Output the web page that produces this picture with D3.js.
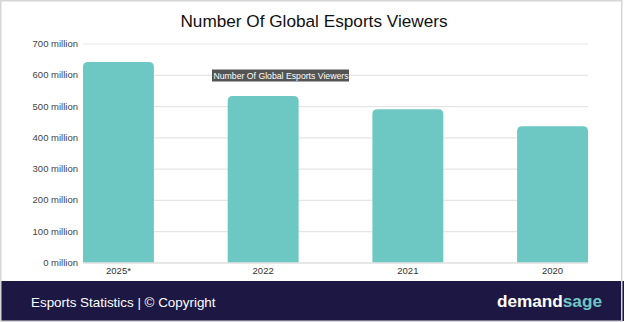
<!DOCTYPE html>
<html>
<head>
<meta charset="utf-8">
<script src="https://cdn.jsdelivr.net/npm/d3@7"></script>
<style>
  html, body { margin: 0; padding: 0; background: #fff; }
  svg { display: block; font-family: "Liberation Sans", Arial, Helvetica, sans-serif; }
</style>
</head>
<body>
<svg id="chart" width="624" height="322"></svg>
<script>
// Global esports viewers, in millions
const years = ["2025*", "2022", "2021", "2020"];
const viewers = [640.8, 532, 489.5, 435.9];
const yTicks = [0, 100, 200, 300, 400, 500, 600, 700];

const title = "Number Of Global Esports Viewers";
const footerText = "Esports Statistics | \u00A9 Copyright";

const W = 624, H = 322;
const plot = { left: 83, right: 588, top: 43.5, bottom: 262.5 };
const barColor = "#6dc8c3";

const svg = d3.select("#chart");

svg.append("rect").attr("x", 0).attr("y", 0).attr("width", W).attr("height", H).attr("fill", "#fff");

const x = d3.scaleBand()
  .domain(years)
  .range([plot.left, plot.right])
  .paddingInner(0.51)
  .paddingOuter(0);

const y = d3.scaleLinear()
  .domain([0, 700])
  .range([plot.bottom, plot.top]);

// Title
svg.append("text")
  .attr("x", 314).attr("y", 27)
  .attr("text-anchor", "middle")
  .attr("font-size", 17.2)
  .attr("fill", "#111")
  .text(title);

// Gridlines + y labels
const yAxis = d3.axisLeft(y)
  .tickValues(yTicks)
  .tickSize(-(plot.right - plot.left))
  .tickPadding(5)
  .tickFormat(d => d + " million");

const gy = svg.append("g")
  .attr("transform", `translate(${plot.left},0)`)
  .call(yAxis);
gy.select(".domain").remove();
gy.selectAll(".tick line").attr("stroke", "#e5e5e5").attr("stroke-width", 1.2);
gy.selectAll(".tick text")
  .attr("font-size", 9.5)
  .attr("fill", "#444")
  .attr("font-family", "Liberation Sans, Arial, sans-serif");

// Bars with rounded top corners
const r = 5;
function barPath(x0, w, yTop, yBase) {
  return `M${x0},${yBase}V${yTop + r}Q${x0},${yTop} ${x0 + r},${yTop}` +
    `H${x0 + w - r}Q${x0 + w},${yTop} ${x0 + w},${yTop + r}V${yBase}Z`;
}

svg.append("g")
  .selectAll("path")
  .data(years.map((k, i) => ({ year: k, value: viewers[i] })))
  .join("path")
  .attr("d", d => barPath(x(d.year), x.bandwidth(), y(d.value), y(0)))
  .attr("fill", barColor);

// Baseline
svg.append("line")
  .attr("x1", plot.left).attr("x2", plot.right)
  .attr("y1", y(0) + 0.5).attr("y2", y(0) + 0.5)
  .attr("stroke", "#dcdcdc").attr("stroke-width", 1);

// X axis labels
const xAxis = d3.axisBottom(x).tickSize(0).tickPadding(5);
const gx = svg.append("g")
  .attr("transform", `translate(0,${plot.bottom})`)
  .call(xAxis);
gx.select(".domain").remove();
gx.selectAll(".tick text")
  .attr("font-size", 9.5)
  .attr("fill", "#333")
  .attr("font-family", "Liberation Sans, Arial, sans-serif");

// Hover label box
const tip = svg.append("g").attr("transform", "translate(212,69.5)");
tip.append("rect")
  .attr("width", 137).attr("height", 12)
  .attr("fill", "#545454");
tip.append("text")
  .attr("x", 1.5).attr("y", 9)
  .attr("font-size", 8.7)
  .attr("fill", "#fff")
  .text(title);

// Footer band
svg.append("rect")
  .attr("x", 0).attr("y", 281)
  .attr("width", W).attr("height", 40)
  .attr("fill", "#1d1843");

svg.append("text")
  .attr("x", 31).attr("y", 306.5)
  .attr("font-size", 13.4)
  .attr("fill", "#fff")
  .text(footerText);

const brand = svg.append("text")
  .attr("x", 602).attr("y", 307)
  .attr("text-anchor", "end")
  .attr("font-size", 17.2)
  .attr("font-weight", "bold");
brand.append("tspan").attr("fill", "#ffffff").text("demand");
brand.append("tspan").attr("fill", "#6dc8c3").text("sage");

// Outer frame
svg.append("rect")
  .attr("x", 0.75).attr("y", 0.75)
  .attr("width", W - 3).attr("height", H - 1.5)
  .attr("fill", "none")
  .attr("stroke", "#d6d6d6")
  .attr("stroke-width", 1.5);
</script>
</body>
</html>
